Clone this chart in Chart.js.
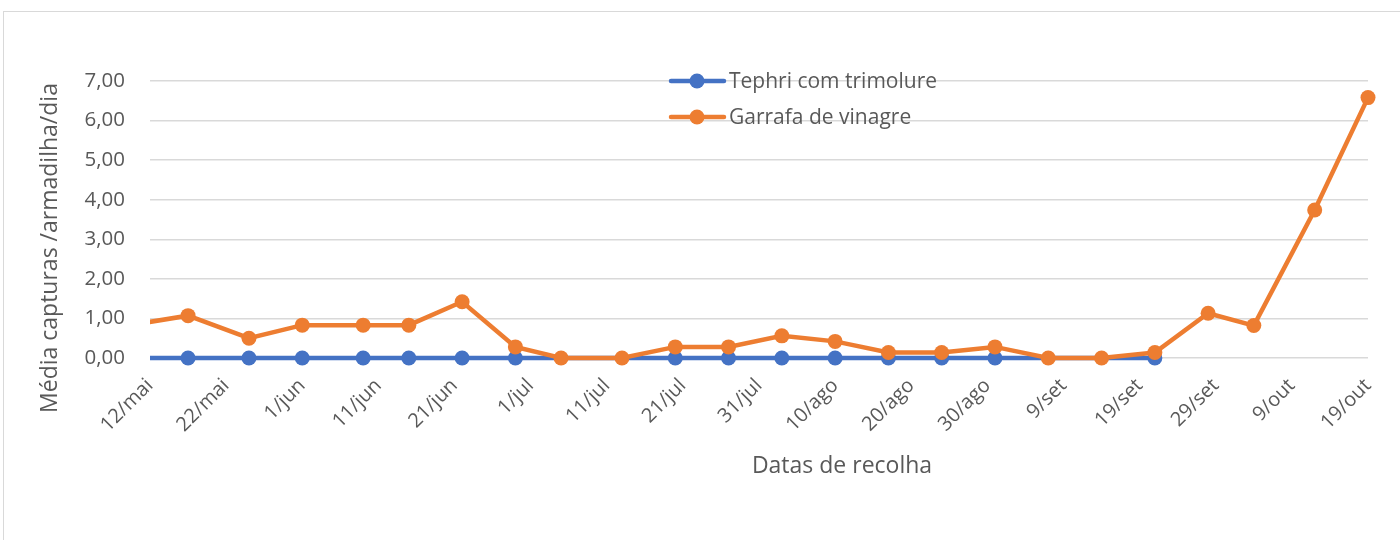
<!DOCTYPE html>
<html>
<head>
<meta charset="utf-8">
<script src="https://cdn.jsdelivr.net/npm/chart.js@4.4.1/dist/chart.umd.min.js"></script>
<style>
  body { margin: 0; background: #fff; }
  #wrap { position: relative; width: 1400px; height: 540px; overflow: hidden; }
  #frame { position: absolute; left: 3px; top: 11px; width: 1420px; height: 560px; border: 1px solid #d9d9d9; }
  #chart { position: absolute; left: 0; top: 0; }
</style>
</head>
<body>
<div id="wrap">
  <div id="frame"></div>
  <canvas id="chart" width="1400" height="540"></canvas>
</div>
<script>
// datas de recolha (a primeira fica antes do inicio do eixo)
let dates = ['10/mai', '17/mai', '25/mai', '1/jun', '9/jun', '15/jun', '22/jun', '29/jun',
  '5/jul', '13/jul', '20/jul', '27/jul', '3/ago', '10/ago', '17/ago', '24/ago', '31/ago',
  '7/set', '14/set', '21/set', '28/set', '4/out', '12/out', '19/out']
let tephri = [0, 0, 0, 0, 0, 0, 0, 0, null, null, 0, 0, 0, 0, 0, 0, 0,
  null, null, 0, null, null, null, null]
let garrafa = [0.85, 1.07, 0.50, 0.83, 0.83, 0.83, 1.42, 0.28, 0, 0, 0.28, 0.28, 0.56, 0.42,
  0.14, 0.14, 0.28, 0, 0, 0.14, 1.13, 0.82, 3.74, 6.58]
let series_names = ['Tephri com trimolure', 'Garrafa de vinagre']
let x_title = 'Datas de recolha'
let y_title = 'Média capturas /armadilha/dia'
let axis_start = '12/mai'
let axis_end = '19/out'

let month_names = ['jan', 'fev', 'mar', 'abr', 'mai', 'jun', 'jul', 'ago', 'set', 'out', 'nov', 'dez']
let day_ms = 24 * 3600 * 1000

function toDay(s) {
    let parts = s.split('/')
    return Date.UTC(2019, month_names.indexOf(parts[1]), parseInt(parts[0])) / day_ms
}

function dayLabel(n) {
    let d = new Date((toDay(axis_start) + n) * day_ms)
    return d.getUTCDate() + '/' + month_names[d.getUTCMonth()]
}

let start_day = toDay(axis_start)
let toPoints = (values) => dates.map((s, i) => ({ x: toDay(s) - start_day, y: values[i] }))

let blue = '#4472C4'
let orange = '#ED7D31'
let text_color = '#595959'
let font_family = "'Open Sans', 'Noto Sans', sans-serif"

// legenda dentro da area do grafico (linha + marcador) e titulos dos eixos,
// colocados onde estao no original
let extras = {
    id: 'extras',
    afterDatasetsDraw(chart) {
        let ctx = chart.ctx
        let colors = [blue, orange]
        ctx.save()
        for (let i = 0; i < series_names.length; i++) {
            let y = 81 + i * 36
            ctx.strokeStyle = colors[i]
            ctx.lineWidth = 4.5
            ctx.lineCap = 'round'
            ctx.beginPath()
            ctx.moveTo(671, y)
            ctx.lineTo(724, y)
            ctx.stroke()
            ctx.fillStyle = colors[i]
            ctx.beginPath()
            ctx.arc(697, y, 7.5, 0, Math.PI * 2)
            ctx.fill()
            ctx.fillStyle = text_color
            ctx.font = '21px ' + font_family
            ctx.textBaseline = 'middle'
            ctx.textAlign = 'left'
            ctx.fillText(series_names[i], 729, y + 1)
        }

        ctx.fillStyle = text_color
        ctx.font = '23px ' + font_family
        ctx.textAlign = 'center'
        ctx.textBaseline = 'middle'
        ctx.fillText(x_title, 842, 466)

        ctx.translate(50, 248)
        ctx.rotate(-Math.PI / 2)
        ctx.fillText(y_title, 0, 0)
        ctx.restore()
    }
}

let chart = new Chart(document.getElementById('chart').getContext('2d'), {
    type: 'line',
    data: {
        datasets: [{
            label: series_names[0],
            data: toPoints(tephri),
            borderColor: blue,
            backgroundColor: blue,
            borderWidth: 4.5,
            pointRadius: 7.5,
            pointBorderWidth: 0,
            spanGaps: true,
            order: 1,
            clip: { left: 0, top: 10, right: 10, bottom: 10 }
        }, {
            label: series_names[1],
            data: toPoints(garrafa),
            borderColor: orange,
            backgroundColor: orange,
            borderWidth: 4.5,
            pointRadius: 7.5,
            pointBorderWidth: 0,
            order: 0,
            clip: { left: 0, top: 10, right: 10, bottom: 10 }
        }]
    },
    options: {
        responsive: false,
        animation: false,
        layout: { padding: { left: 33, top: 81, right: 32, bottom: 56 } },
        plugins: {
            legend: { display: false },
            tooltip: { enabled: false }
        },
        scales: {
            x: {
                type: 'linear',
                min: 0,
                max: toDay(axis_end) - start_day,
                afterFit: (scale) => { scale.height = 540 - 56 - 358 },
                grid: { display: false },
                border: { display: false },
                ticks: {
                    stepSize: 10,
                    minRotation: 45,
                    maxRotation: 45,
                    padding: 8,
                    color: text_color,
                    font: { family: font_family, size: 20 },
                    callback: (v) => dayLabel(v)
                }
            },
            y: {
                min: 0,
                max: 7,
                afterFit: (scale) => { scale.width = 150 - 33 },
                grid: { color: '#d9d9d9', lineWidth: 1.5, drawTicks: false },
                border: { display: false },
                ticks: {
                    stepSize: 1,
                    padding: 25,
                    color: text_color,
                    font: { family: font_family, size: 20.5 },
                    callback: (v) => v.toFixed(2).replace('.', ',')
                }
            }
        }
    },
    plugins: [extras]
})
</script>
</body>
</html>
